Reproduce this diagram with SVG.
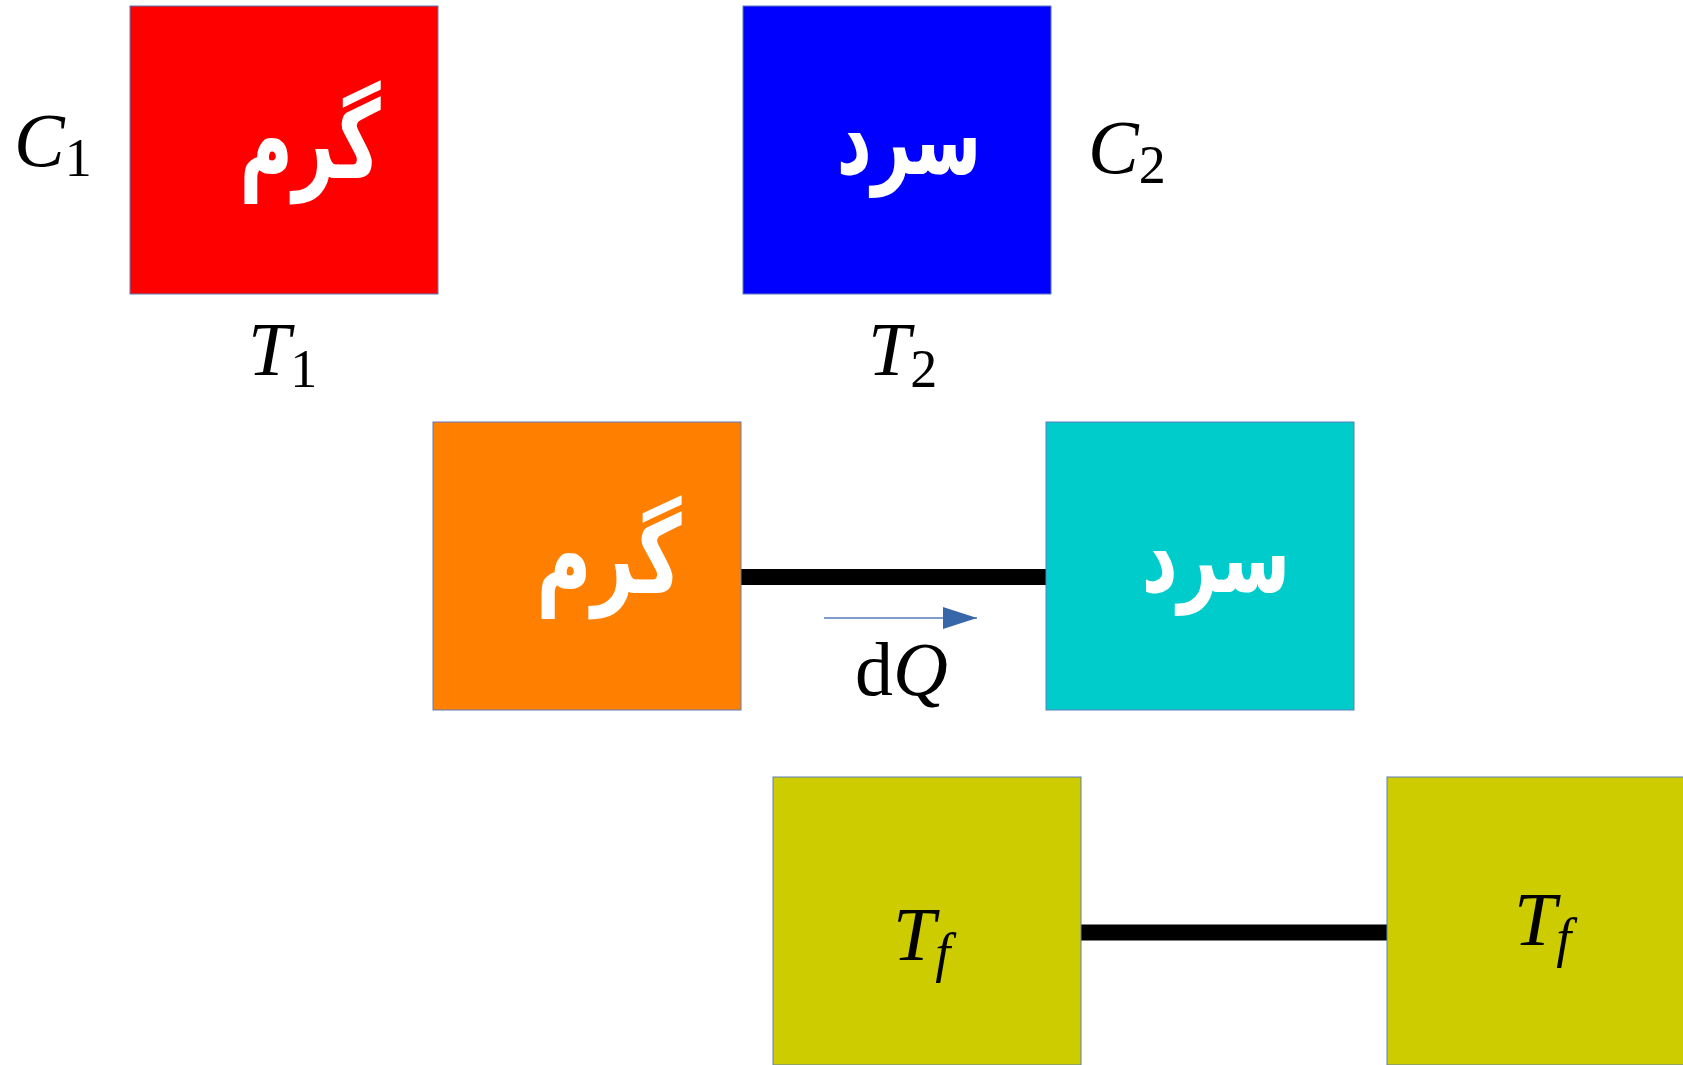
<svg xmlns="http://www.w3.org/2000/svg" width="1683" height="1065" viewBox="0 0 1683 1065">
<style>
.box{stroke:#5a7dbd;stroke-width:1}
.fa{font-family:"DejaVu Sans",sans-serif;font-weight:bold;font-size:96px;fill:#ffffff;text-anchor:middle}
.m{font-family:"Liberation Serif",serif;font-style:italic;font-size:76px;fill:#000}
.s{font-style:normal;font-size:54px}
.si{font-size:54px}
.rm{font-style:normal}
.conn{stroke:#000;stroke-width:16}
</style>
<defs>
<marker id="ah" markerWidth="34" markerHeight="22" refX="34" refY="11" orient="auto" markerUnits="userSpaceOnUse">
<path d="M0,0 L34,11 L0,22 Z" fill="#3767a8"/>
</marker>
</defs>
<rect width="1683" height="1065" fill="#ffffff"/>
<g id="connectors">
<line class="conn" x1="741" y1="577" x2="1046" y2="577"/>
<line class="conn" x1="1081" y1="932.5" x2="1387" y2="932.5"/>
<line x1="824" y1="618" x2="977" y2="618" stroke="#7f9ccc" stroke-width="2" marker-end="url(#ah)"/>
</g>
<g id="hot1">
<rect class="box" x="130" y="6" width="308" height="288" fill="#ff0000"/>
<text class="fa" transform="translate(310,178) scale(0.76,1.12)" direction="rtl">گرم</text>
</g>
<g id="cold1">
<rect class="box" x="743" y="6" width="308" height="288" fill="#0000ff"/>
<text class="fa" transform="translate(909,174) scale(0.71,1.02)" direction="rtl">سرد</text>
</g>
<g id="labels-top">
<text class="m" x="14" y="166">C<tspan class="s" dy="10">1</tspan></text>
<text class="m" x="1088" y="173">C<tspan class="s" dy="10">2</tspan></text>
<text class="m" x="248" y="375">T<tspan class="s" dy="12">1</tspan></text>
<text class="m" x="868" y="375">T<tspan class="s" dy="12">2</tspan></text>
</g>
<g id="hot2">
<rect class="box" x="433" y="422" width="308" height="288" fill="#ff8000"/>
<text class="fa" transform="translate(609,593) scale(0.78,1.12)" direction="rtl">گرم</text>
</g>
<g id="cold2">
<rect class="box" x="1046" y="422" width="308" height="288" fill="#00cccc"/>
<text class="fa" transform="translate(1216,592) scale(0.73,1.02)" direction="rtl">سرد</text>
</g>
<g id="dq-label">
<text class="m" x="855" y="695"><tspan class="rm">d</tspan>Q</text>
</g>
<g id="final1">
<rect class="box" x="773" y="777" width="308" height="288" fill="#cccc00"/>
<text class="m" x="893" y="960">T<tspan class="si" dy="11">f</tspan></text>
</g>
<g id="final2">
<rect class="box" x="1387" y="777" width="308" height="288" fill="#cccc00"/>
<text class="m" x="1514" y="945">T<tspan class="si" dy="11">f</tspan></text>
</g>
</svg>
